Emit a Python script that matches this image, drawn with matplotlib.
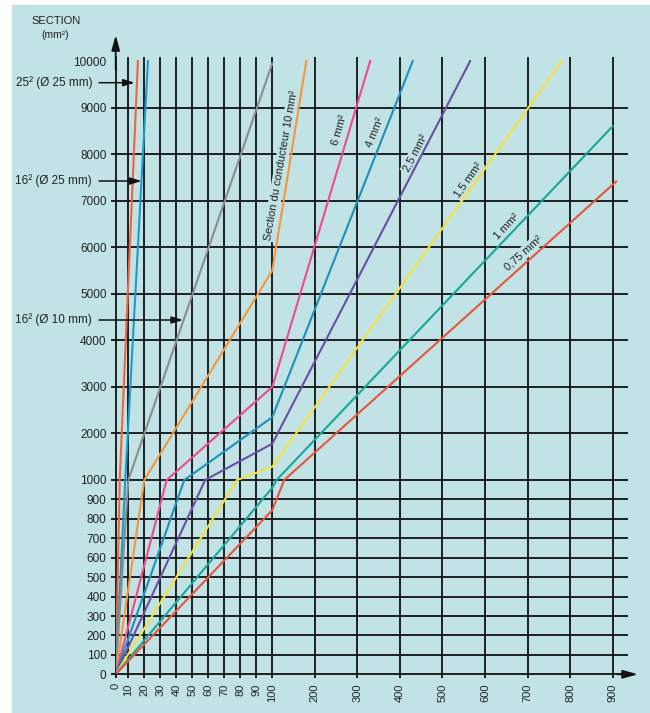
import numpy as np
import matplotlib
matplotlib.use('Agg')
import matplotlib.pyplot as plt
from matplotlib.patches import Rectangle

plt.rcParams['font.family'] = ['Liberation Sans', 'DejaVu Sans']

# ---------------- data ----------------
x_ticks = [0, 10, 20, 30, 40, 50, 60, 70, 80, 90, 100, 200, 300, 400, 500, 600, 700, 800, 900]
y_ticks = [0, 100, 200, 300, 400, 500, 600, 700, 800, 900, 1000,
           2000, 3000, 4000, 5000, 6000, 7000, 8000, 9000, 10000]

x_25_d25 = [0, 3.2, 16]
y_25_d25 = [0, 1000, 10000]
x_16_d25 = [0, 7.6, 22.3]
y_16_d25 = [0, 1000, 10000]
x_16_d10 = [0, 10, 100]
y_16_d10 = [0, 1000, 9950]
x_10 = [0, 20, 100, 180]
y_10 = [0, 1000, 5500, 10000]
x_6 = [0, 34, 100, 330]
y_6 = [0, 1000, 3000, 10000]
x_4 = [0, 45, 100, 430]
y_4 = [0, 1000, 2350, 10000]
x_25 = [0, 58, 100, 565]
y_25 = [0, 1000, 1780, 10000]
x_15 = [0, 78, 100, 780]
y_15 = [0, 1000, 1285, 10000]
x_1 = [0, 100, 110, 900]
y_1 = [0, 960, 1000, 8600]
x_075 = [0, 100, 128, 908]
y_075 = [0, 845, 1000, 7410]

line_labels = ["Section du conducteur 10 mm²", "6 mm²", "4 mm²", "2,5 mm²",
               "1,5 mm²", "1 mm²", "0,75 mm²"]
left_labels = ["25² (Ø 25 mm)", "16² (Ø 25 mm)", "16² (Ø 10 mm)"]

# ---------------- styles ----------------
BG = '#c2e3e5'
series = [
    (x_25_d25, y_25_d25, '#f2643c'),
    (x_16_d25, y_16_d25, '#1c9ccb'),
    (x_16_d10, y_16_d10, '#8c8c8c'),
    (x_10, y_10, '#f7963c'),
    (x_6, y_6, '#ef4a8c'),
    (x_4, y_4, '#1e90bd'),
    (x_25, y_25, '#6a4ea6'),
    (x_15, y_15, '#f3e23c'),
    (x_1, y_1, '#17a89c'),
    (x_075, y_075, '#e6553c'),
]

# piecewise-linear scales (pixel spans of the reference)
XB = [0, 10, 100, 3000]
XP = [0, 12.6, 156.6, 156.6 + 2900 * 0.4255]
YB = [0, 1000, 30000]
YP = [0, 194.3, 194.3 + 29000 * 0.04655]


def fx(v):
    return np.interp(v, XB, XP)


def fx_inv(v):
    return np.interp(v, XP, XB)


def fy(v):
    return np.interp(v, YB, YP)


def fy_inv(v):
    return np.interp(v, YP, YB)


W, H = 650, 713
fig = plt.figure(figsize=(W / 100, H / 100), dpi=100, facecolor='white')
fig.patches.append(Rectangle((12 / W, 0), 1 - 12 / W, 1 - 5 / H,
                             transform=fig.transFigure, facecolor=BG,
                             edgecolor='none', zorder=-10))

L, R, B, T = 115.7, 628, 674.3, 57
ax = fig.add_axes([L / W, (H - B) / H, (R - L) / W, (B - T) / H])
ax.set_facecolor('none')
ax.set_xscale('function', functions=(fx, fx_inv))
ax.set_yscale('function', functions=(fy, fy_inv))
xmax = float(fx_inv(R - L))
ymax = float(fy_inv(B - T))
ax.set_xlim(0, xmax)
ax.set_ylim(0, ymax)

# grid
for xv in x_ticks[1:]:
    ax.plot([xv, xv], [0, ymax], color='#111111', lw=1.3, zorder=1,
            solid_capstyle='butt')
for yv in y_ticks[1:-1]:
    ax.plot([0, xmax], [yv, yv], color='#111111', lw=1.3, zorder=1,
            solid_capstyle='butt')

for s in ['top', 'right']:
    ax.spines[s].set_visible(False)
for s in ['left', 'bottom']:
    ax.spines[s].set_linewidth(1.3)
    ax.spines[s].set_color('#111111')

ax.set_xticks(x_ticks)
ax.set_xticklabels([str(v) for v in x_ticks], rotation=90, fontsize=8, color='#222222')
ax.set_yticks(y_ticks)
ax.set_yticklabels([str(v) for v in y_ticks], fontsize=8.5, color='#222222')
ax.xaxis.set_minor_locator(matplotlib.ticker.NullLocator())
ax.yaxis.set_minor_locator(matplotlib.ticker.NullLocator())
ax.tick_params(axis='x', direction='out', length=3, width=1.3, color='#111111', pad=3.5)
ax.tick_params(axis='y', direction='out', length=3.6, width=1.3, color='#111111', pad=3)
ax.yaxis.get_major_ticks()[-1].tick1line.set_visible(False)

# series
for xs, ys, c in series:
    ax.plot(xs, ys, color=c, lw=1.5, zorder=3, solid_joinstyle='miter')

# labels along lines
lab_pos = [(120.4, 7767, 80), (259, 8519, 74), (341.4, 8465, 68), (435.6, 8018, 62.7),
           (560, 7445, 54.7), (651.6, 6442, 46.6), (689.9, 5870, 42)]
for txt, (lx, ly, rot) in zip(line_labels, lab_pos):
    ax.text(lx, ly, txt, rotation=rot, rotation_mode='anchor', ha='center',
            va='center', fontsize=8, color='#222222', zorder=2,
            bbox=dict(boxstyle='square,pad=0.12', fc=BG, ec='none'))

# left annotations with arrows
ann = [(14.0, 9535), (18.3, 7423), (44.2, 4437)]
for txt, (tx, ty) in zip(left_labels, ann):
    ax.annotate(txt, xy=(tx, ty), xycoords='data',
                xytext=(-0.046, ty), textcoords=('axes fraction', 'data'),
                ha='right', va='center', fontsize=8.5, color='#222222',
                annotation_clip=False, zorder=4,
                arrowprops=dict(arrowstyle='-|>,head_length=0.8,head_width=0.25',
                                color='#111111', lw=1.1, shrinkA=3, shrinkB=0))

# axis arrows
ax.annotate('', xy=(0, 1.0356), xycoords='axes fraction', xytext=(0, 0.98),
            annotation_clip=False,
            arrowprops=dict(arrowstyle='-|>,head_length=0.9,head_width=0.25',
                            color='#111111', lw=1.3, shrinkA=0, shrinkB=0))
ax.annotate('', xy=(1.0195, 0), xycoords='axes fraction', xytext=(0.98, 0),
            annotation_clip=False,
            arrowprops=dict(arrowstyle='-|>,head_length=0.9,head_width=0.25',
                            color='#111111', lw=1.3, shrinkA=0, shrinkB=0))

fig.text(56 / W, 1 - 21 / H, 'SECTION', ha='center', va='center', fontsize=8,
         color='#222222')
fig.text(55 / W, 1 - 35 / H, '(mm²)', ha='center', va='center', fontsize=7.5,
         color='#222222')

fig.savefig('out.png', dpi=100, facecolor='white')
